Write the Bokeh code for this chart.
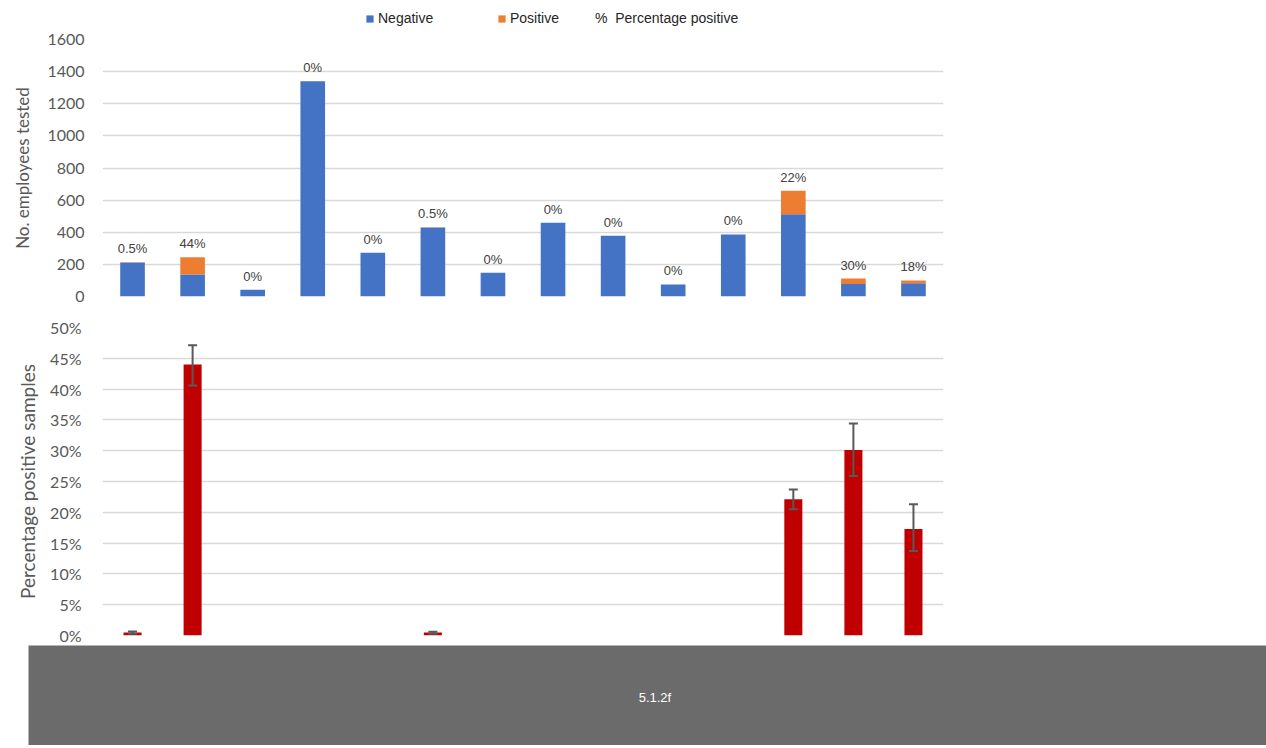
from bokeh.plotting import figure
from bokeh.models import (ColumnDataSource, Range1d, FactorRange, LabelSet, Legend, LegendItem,
                          Whisker, TeeHead, NumeralTickFormatter, Label, Spacer)
from bokeh.layouts import column, row
from bokeh.core.properties import value
from bokeh.embed import file_html
from bokeh.resources import INLINE

# ---------------- data ----------------
sites = ["1", "2", "3", "4", "5", "6", "7", "8", "9", "10", "11", "12", "13", "14"]
negative = [212, 137, 42, 1340, 272, 429, 148, 459, 378, 75, 386, 512, 78, 82]
positive = [1, 108, 0, 0, 0, 2, 0, 0, 0, 0, 0, 146, 34, 18]
pct_labels = ["0.5%", "44%", "0%", "0%", "0%", "0.5%", "0%", "0%", "0%", "0%", "0%", "22%", "30%", "18%"]
pct_positive = [0.005, 0.44, 0, 0, 0, 0.005, 0, 0, 0, 0, 0, 0.221, 0.301, 0.173]
err_lower = [0.003, 0.406, 0, 0, 0, 0.003, 0, 0, 0, 0, 0, 0.205, 0.259, 0.137]
err_upper = [0.0065, 0.471, 0, 0, 0, 0.006, 0, 0, 0, 0, 0, 0.237, 0.344, 0.213]
top_ticks = [0, 200, 400, 600, 800, 1000, 1200, 1400, 1600]
bottom_ticks = [0, 0.05, 0.10, 0.15, 0.20, 0.25, 0.30, 0.35, 0.40, 0.45, 0.50]
legend_labels = ["Negative", "Positive", "%  Percentage positive"]
top_ylabel = "No. employees tested"
bottom_ylabel = "Percentage positive samples"
caption = ["5.1.2f"]

BLUE = "#4472c4"
ORANGE = "#ed7d31"
RED = "#c00000"
GRID = "#d9d9d9"
TXT = "#595959"
TICK_FONT = "Lato"

W = 1266
FRAME_L = 102
FRAME_W = 841
BORDER_R = W - FRAME_L - FRAME_W

def style(p, ylabel, label_size, standoff_lab, standoff_tick):
    p.xaxis.visible = False
    p.xgrid.grid_line_color = None
    p.ygrid.grid_line_color = GRID
    p.ygrid.grid_line_width = 1.5
    p.outline_line_color = None
    ax = p.yaxis[0]
    ax.axis_label = ylabel
    ax.axis_label_text_font = TICK_FONT
    ax.axis_label_text_font_size = label_size
    ax.axis_label_text_font_style = "normal"
    ax.axis_label_text_color = TXT
    ax.axis_label_standoff = standoff_lab
    ax.major_label_text_font = TICK_FONT
    ax.major_label_text_font_size = "16px"
    ax.major_label_text_color = TXT
    ax.major_label_standoff = standoff_tick
    ax.axis_line_color = None
    ax.major_tick_line_color = None
    ax.minor_tick_line_color = None

x_range = FactorRange(*sites)

# ---------------- legend strip ----------------
p0 = figure(width=W, height=29, x_range=x_range, y_range=Range1d(0, 1),
            output_backend="svg", toolbar_location=None,
            min_border_left=FRAME_L, min_border_right=BORDER_R, min_border_top=0, min_border_bottom=0)
p0.axis.visible = False
p0.grid.grid_line_color = None
p0.outline_line_color = None
# zero-height stand-ins so the legend has swatches to draw
lg_neg = p0.vbar(x=[sites[0]], top=[0], bottom=[0], width=0.4, fill_color=BLUE, line_color=None)
lg_pos = p0.vbar(x=[sites[0]], top=[0], bottom=[0], width=0.4, fill_color=ORANGE, line_color=None)
lg_pct = p0.scatter(x=[sites[0]], y=[0], size=0, alpha=0)

leg_x = [263, 395, 480]
for item_lab, rend, lx in zip(legend_labels, [lg_neg, lg_pos, lg_pct], leg_x):
    lg = Legend(items=[LegendItem(label=item_lab, renderers=[rend])], location=(lx, 3),
                orientation="horizontal", padding=0, margin=0, border_line_color=None,
                background_fill_alpha=0, glyph_width=9, glyph_height=9, label_standoff=4,
                label_text_font="Liberation Sans", label_text_font_size="14px",
                label_text_color="#262626", label_height=16)
    p0.add_layout(lg, "center")

# ---------------- top chart ----------------
totals = [n + q for n, q in zip(negative, positive)]
src = ColumnDataSource(dict(x=sites, neg=negative, pos=positive, tot=totals, lab=pct_labels))

p1 = figure(width=W, height=277, x_range=x_range, y_range=Range1d(0, 1600),
            output_backend="svg", toolbar_location=None,
            min_border_left=FRAME_L, min_border_right=BORDER_R,
            min_border_top=10, min_border_bottom=10)
style(p1, top_ylabel, "17px", 11, 12)
p1.yaxis.ticker = top_ticks

p1.vbar(x="x", top="neg", bottom=0, width=0.41, source=src, fill_color=BLUE, line_color=None)
p1.vbar(x="x", top="tot", bottom="neg", width=0.41, source=src, fill_color=ORANGE, line_color=None)

labels = LabelSet(x="x", y="tot", text="lab", source=src, text_align="center", text_baseline="bottom",
                  y_offset=6, text_font=value("Liberation Sans"), text_font_size=value("13px"),
                  text_color="#404040")
p1.add_layout(labels)

# ---------------- bottom chart ----------------
src2 = ColumnDataSource(dict(x=sites, pct=pct_positive))
idx = [i for i, v in enumerate(pct_positive) if v > 0]
src_err = ColumnDataSource(dict(x=[sites[i] for i in idx],
                                lo=[err_lower[i] for i in idx],
                                hi=[err_upper[i] for i in idx]))

p2 = figure(width=W, height=339, x_range=x_range, y_range=Range1d(0, 0.5),
            output_backend="svg", toolbar_location=None,
            min_border_left=FRAME_L, min_border_right=BORDER_R,
            min_border_top=21, min_border_bottom=10)
style(p2, bottom_ylabel, "19px", 8, 15)
p2.yaxis.ticker = bottom_ticks
p2.yaxis.formatter = NumeralTickFormatter(format="0%")

p2.vbar(x="x", top="pct", bottom=0, width=0.3, source=src2, fill_color=RED, line_color=None)
wh = Whisker(source=src_err, base="x", lower="lo", upper="hi", line_color=TXT, line_width=2,
             upper_head=TeeHead(size=9, line_color=TXT, line_width=2),
             lower_head=TeeHead(size=9, line_color=TXT, line_width=2), level="overlay")
p2.add_layout(wh)

# ---------------- caption band ----------------
BAND_L = 28
p3 = figure(width=W - BAND_L, height=100, x_range=Range1d(0, 1), y_range=Range1d(0, 1),
            output_backend="svg", toolbar_location=None,
            min_border_left=0, min_border_right=0, min_border_top=0, min_border_bottom=0)
p3.axis.visible = False
p3.grid.grid_line_color = None
p3.outline_line_color = None
p3.background_fill_color = "#6b6b6b"
p3.border_fill_color = "#6b6b6b"
p3.add_layout(Label(x=0.506, y=0.48, text=caption[0], text_align="center", text_baseline="middle",
                    text_color="white", text_font="Liberation Sans", text_font_size="13px"))

layout = column(p0, p1, p2, row(Spacer(width=BAND_L, height=100), p3, spacing=0), spacing=0)
open("out.html", "w").write(file_html(layout, INLINE))
